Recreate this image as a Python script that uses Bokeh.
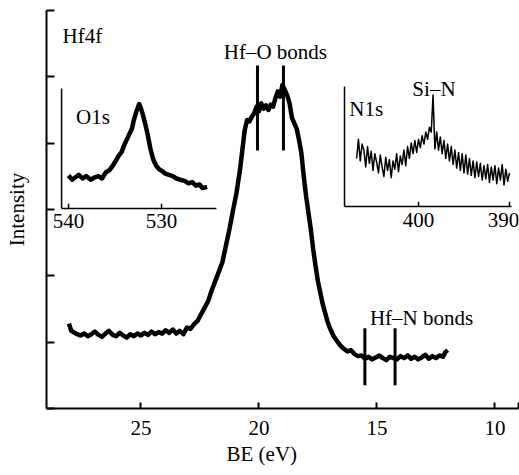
import numpy as np
from bokeh.plotting import figure
from bokeh.models import Range1d, FixedTicker, Title
from bokeh.core.properties import value
from bokeh.embed import file_html
from bokeh.resources import INLINE

# ---------------- data ----------------
# Hf4f main spectrum (BE in eV, intensity arb.)
hf_be = [28.05, 27.95, 27.85, 27.7, 27.55, 27.4, 27.25, 27.1, 26.95, 26.8, 26.65, 26.5,
         26.35, 26.2, 26.05, 25.9, 25.75, 25.6, 25.45, 25.3, 25.15, 25.0, 24.85, 24.7,
         24.55, 24.4, 24.25, 24.1, 23.95, 23.8, 23.65, 23.5, 23.35, 23.2, 23.05, 22.9,
         22.75, 22.6, 22.45, 22.3, 22.15, 22.0, 21.85, 21.7, 21.55, 21.4, 21.25, 21.1,
         20.95, 20.8, 20.7, 20.6, 20.5, 20.4, 20.3, 20.2, 20.1, 20.0, 19.9, 19.8, 19.7,
         19.6, 19.5, 19.4, 19.3, 19.2, 19.1, 19.0, 18.9, 18.8, 18.7, 18.6, 18.5, 18.4,
         18.3, 18.2, 18.1, 18.0, 17.9, 17.8, 17.7, 17.6, 17.5, 17.4, 17.3, 17.2, 17.1,
         17.0, 16.85, 16.7, 16.55, 16.4, 16.25, 16.1, 15.95, 15.8, 15.65, 15.5, 15.35,
         15.2, 15.05, 14.9, 14.75, 14.6, 14.45, 14.3, 14.15, 14.0, 13.85, 13.7, 13.55,
         13.4, 13.25, 13.1, 12.95, 12.8, 12.65, 12.5, 12.35, 12.2, 12.1, 12.0]
hf_int = [1.28, 1.17, 1.15, 1.12, 1.10, 1.13, 1.09, 1.12, 1.16, 1.11, 1.08, 1.13,
          1.17, 1.11, 1.09, 1.14, 1.10, 1.07, 1.12, 1.09, 1.13, 1.10, 1.14, 1.11,
          1.16, 1.12, 1.15, 1.13, 1.18, 1.14, 1.19, 1.13, 1.17, 1.12, 1.22, 1.20,
          1.27, 1.32, 1.42, 1.52, 1.62, 1.78, 1.92, 2.06, 2.20, 2.45, 2.70, 2.98,
          3.25, 3.60, 3.90, 4.20, 4.35, 4.33, 4.40, 4.45, 4.55, 4.48, 4.60, 4.52, 4.57,
          4.50, 4.58, 4.55, 4.68, 4.78, 4.70, 4.88, 4.80, 4.72, 4.60, 4.38, 4.30, 4.22,
          4.05, 3.85, 3.50, 3.20, 2.95, 2.70, 2.40, 2.15, 1.92, 1.75, 1.58, 1.45, 1.32,
          1.22, 1.10, 1.02, 0.95, 0.90, 0.86, 0.88, 0.82, 0.79, 0.80, 0.75, 0.78,
          0.74, 0.77, 0.80, 0.76, 0.73, 0.78, 0.76, 0.74, 0.79, 0.76, 0.80, 0.75,
          0.78, 0.74, 0.77, 0.81, 0.75, 0.79, 0.76, 0.80, 0.78, 0.85, 0.88]

# bond markers
hfo_marks = [20.06, 18.96]
hfo_span = [3.89, 5.17]
hfn_marks = [15.51, 14.23]
hfn_span = [0.35, 1.21]

# O1s inset spectrum
o1s_be = [540.0, 539.6, 539.25, 538.9, 538.5, 538.1, 537.6, 537.2, 536.8, 536.4, 536.0,
          535.6, 535.3, 534.9, 534.6, 534.3, 534.0, 533.7, 533.4, 533.2, 533.0, 532.7,
          532.4, 532.2, 532.0, 531.8, 531.5, 531.2, 530.9, 530.6, 530.3, 529.9, 529.6,
          529.2, 528.8, 528.4, 528.0, 527.5, 527.1, 526.7, 526.3, 525.9, 525.6, 525.1]
o1s_int = [0.275, 0.24, 0.26, 0.28, 0.25, 0.27, 0.24, 0.26, 0.27, 0.25, 0.30,
           0.32, 0.35, 0.40, 0.44, 0.47, 0.53, 0.58, 0.63, 0.66, 0.73, 0.81,
           0.87, 0.83, 0.78, 0.72, 0.62, 0.50, 0.41, 0.36, 0.33, 0.31, 0.29,
           0.28, 0.27, 0.25, 0.24, 0.23, 0.21, 0.22, 0.19, 0.20, 0.17, 0.18]
o1s_ticks = [540, 530]

# N1s inset spectrum
n1s_be = [406.8, 406.6, 406.4, 406.2, 406.0, 405.8, 405.6, 405.4, 405.2, 405.0,
          404.8, 404.6, 404.4, 404.2, 404.0, 403.8, 403.6, 403.4, 403.2, 403.0,
          402.8, 402.6, 402.4, 402.2, 402.0, 401.8, 401.6, 401.4, 401.2, 401.0,
          400.8, 400.6, 400.4, 400.2, 400.0, 399.8, 399.6, 399.4, 399.2, 399.0,
          398.8, 398.6, 398.4, 398.2, 398.0, 397.8, 397.6, 397.4, 397.2, 397.0,
          396.8, 396.6, 396.4, 396.2, 396.0, 395.8, 395.6, 395.4, 395.2, 395.0,
          394.8, 394.6, 394.4, 394.2, 394.0, 393.8, 393.6, 393.4, 393.2, 393.0,
          392.8, 392.6, 392.4, 392.2, 392.0, 391.8, 391.6, 391.4, 391.2, 391.0,
          390.8, 390.6, 390.4, 390.2, 390.0]
n1s_int = [0.40, 0.56, 0.38, 0.52, 0.47, 0.33, 0.50, 0.36, 0.46, 0.30,
           0.44, 0.37, 0.28, 0.43, 0.33, 0.25, 0.41, 0.30, 0.39, 0.24,
           0.38, 0.31, 0.44, 0.29, 0.42, 0.35, 0.47, 0.34, 0.50, 0.40,
           0.53, 0.44, 0.55, 0.45, 0.56, 0.49, 0.59, 0.52, 0.62, 0.56,
           0.66, 0.62, 0.93, 0.48, 0.62, 0.47, 0.58, 0.44, 0.55, 0.40,
           0.52, 0.38, 0.50, 0.35, 0.47, 0.32, 0.45, 0.30, 0.44, 0.28,
           0.43, 0.27, 0.40, 0.26, 0.38, 0.24, 0.37, 0.25, 0.36, 0.22,
           0.34, 0.23, 0.35, 0.20, 0.33, 0.22, 0.34, 0.19, 0.32, 0.22,
           0.35, 0.18, 0.31, 0.21, 0.28]
n1s_ticks = [400, 390]

x_ticks = [25, 20, 15, 10, 9]
x_tick_labels = {25: "25", 20: "20", 15: "15", 10: "10", 9: ""}
y_ticks = [0, 1, 2, 3, 4, 5, 6]

FONT = value("Liberation Serif")
FS = "21px"

p = figure(width=519, height=475, x_range=Range1d(29, 9), y_range=Range1d(0, 6),
           output_backend="svg", toolbar_location=None,
           min_border_left=46, min_border_right=1, min_border_top=10, min_border_bottom=67)
p.background_fill_color = "white"
p.border_fill_color = "white"
p.outline_line_color = None
p.grid.visible = False

p.extra_x_ranges = {"o1s_x": Range1d(542.37, 491.61), "n1s_x": Range1d(440.88, 389.01)}
p.extra_y_ranges = {"o1s_y": Range1d(-1.6667, 1.65), "n1s_y": Range1d(-1.6833, 1.6333)}

# main axes
p.xaxis.ticker = FixedTicker(ticks=x_ticks)
p.xaxis.major_label_overrides = x_tick_labels
p.xaxis.major_tick_in = 6
p.xaxis.major_tick_out = 0
p.xaxis.minor_tick_line_color = None
p.xaxis.major_label_standoff = 12
p.xaxis.major_label_text_font = "Liberation Serif"
p.xaxis.major_label_text_font_size = FS
p.xaxis.major_label_text_color = "black"
p.xaxis.axis_line_width = 2
p.xaxis.major_tick_line_width = 2

p.yaxis.ticker = FixedTicker(ticks=y_ticks)
p.yaxis.major_label_overrides = {t: "" for t in y_ticks}
p.yaxis.major_tick_in = 8
p.yaxis.major_tick_out = 0
p.yaxis.minor_tick_line_color = None
p.yaxis.major_label_standoff = 0
p.yaxis.axis_line_width = 2
p.yaxis.major_tick_line_width = 2
p.yaxis.axis_label = "Intensity"
p.yaxis.axis_label_standoff = 18
p.yaxis.axis_label_text_font = "Liberation Serif"
p.yaxis.axis_label_text_font_size = FS
p.yaxis.axis_label_text_font_style = "normal"
p.yaxis.axis_label_text_color = "black"

p.add_layout(Title(text="BE (eV)", align="left", offset=180, text_font="Liberation Serif",
                   text_font_size=FS, text_font_style="normal", text_color="black",
                   standoff=4), "below")

# main curve
p.line(hf_be, hf_int, line_color="black", line_width=4.5, line_join="round")
p.segment(x0=hfo_marks, y0=[hfo_span[0]] * 2, x1=hfo_marks, y1=[hfo_span[1]] * 2,
          line_color="black", line_width=3)
p.segment(x0=hfn_marks, y0=[hfn_span[0]] * 2, x1=hfn_marks, y1=[hfn_span[1]] * 2,
          line_color="black", line_width=3)

# O1s inset
ox = dict(x_range_name="o1s_x", y_range_name="o1s_y")
p.segment(x0=[540.75, 540.75], y0=[0, 0], x1=[540.75, 524.1], y1=[1.0, 0],
          line_color="black", line_width=1.5, **ox)
p.segment(x0=o1s_ticks, y0=[0, 0], x1=o1s_ticks, y1=[0.04, 0.04],
          line_color="black", line_width=1.5, **ox)
p.text(x=o1s_ticks, y=[-0.05, -0.05], text=[str(t) for t in o1s_ticks],
       text_font=FONT, text_font_size=FS, text_align="center", text_baseline="top", **ox)
p.line(o1s_be, o1s_int, line_color="black", line_width=4.5, line_join="round", **ox)
p.text(x=[539.2], y=[0.76], text=["O1s"], text_font=FONT, text_font_size=FS,
       text_align="left", text_baseline="alphabetic", **ox)

# N1s inset
nx = dict(x_range_name="n1s_x", y_range_name="n1s_y")
p.segment(x0=[408.13, 408.13], y0=[0, 0], x1=[408.13, 389.78], y1=[1.0, 0],
          line_color="black", line_width=1.5, **nx)
p.segment(x0=n1s_ticks, y0=[0, 0], x1=n1s_ticks, y1=[0.04, 0.04],
          line_color="black", line_width=1.5, **nx)
p.text(x=n1s_ticks, y=[-0.05, -0.05], text=[str(t) for t in n1s_ticks],
       x_offset=[0, -6], text_font=FONT, text_font_size=FS, text_align="center",
       text_baseline="top", **nx)
p.line(n1s_be, n1s_int, line_color="black", line_width=1.5, line_join="round", **nx)
p.text(x=[407.6], y=[0.81], text=["N1s"], text_font=FONT, text_font_size=FS,
       text_align="left", text_baseline="alphabetic", **nx)
p.text(x=[398.3], y=[0.98], text=["Si–N"], text_font=FONT, text_font_size=FS,
       text_align="center", text_baseline="alphabetic", **nx)

# main annotations
p.text(x=[28.32], y=[5.62], text=["Hf4f"], text_font=FONT, text_font_size=FS,
       text_align="left", text_baseline="alphabetic")
p.text(x=[19.3], y=[5.37], text=["Hf–O bonds"], text_font=FONT, text_font_size=FS,
       text_align="center", text_baseline="alphabetic")
p.text(x=[13.11], y=[1.36], text=["Hf–N bonds"], text_font=FONT, text_font_size=FS,
       text_align="center", text_baseline="alphabetic")

open("out.html", "w").write(file_html(p, INLINE))
